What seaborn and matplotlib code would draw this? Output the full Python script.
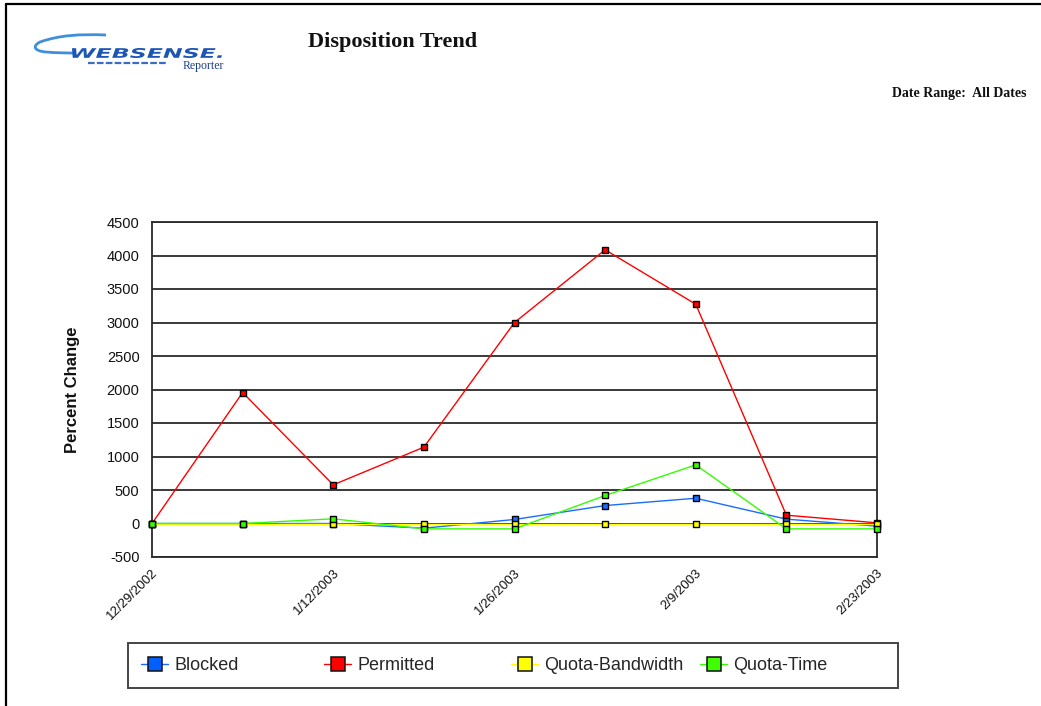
import matplotlib
matplotlib.use("Agg")
import matplotlib.pyplot as plt
from matplotlib.lines import Line2D
from matplotlib.patches import Rectangle, PathPatch
from matplotlib.textpath import TextPath
from matplotlib.font_manager import FontProperties
from matplotlib.transforms import Affine2D
from matplotlib.path import Path
import pandas as pd
import seaborn as sns

# Weekly reporting periods
dates = ["2002-12-29", "2003-01-05", "2003-01-12", "2003-01-19", "2003-01-26",
         "2003-02-02", "2003-02-09", "2003-02-16", "2003-02-23"]

# Percent change per disposition
blocked = [0, 0, 0, -70, 60, 268, 377, 65, -40]
permitted = [0, 1955, 577, 1139, 3000, 4085, 3273, 124, 10]
quota_bandwidth = [0, 0, 0, 0, 0, 0, 0, 0, 0]
quota_time = [0, 0, 70, -80, -80, 418, 875, -80, -80]

series_names = ["Blocked", "Permitted", "Quota-Bandwidth", "Quota-Time"]
series_colors = ["#1a6cff", "#ff0000", "#ffff00", "#33ff00"]
legend_fill = ["#0060ff", "#ff0000", "#ffff00", "#40ff00"]

y_ticks = [-500, 0, 500, 1000, 1500, 2000, 2500, 3000, 3500, 4000, 4500]

title_text = "Disposition Trend"
range_text = "Date Range:  All Dates"
y_label = "Percent Change"

# ---- long-form table for seaborn
date_index = pd.to_datetime(dates)
frames = []
for name, vals in zip(series_names, [blocked, permitted, quota_bandwidth, quota_time]):
    frames.append(pd.DataFrame({"Date": date_index, "Percent Change": vals, "Series": name}))
df = pd.concat(frames, ignore_index=True)

sns.set_theme(style="white")
plt.rcParams["font.family"] = ["Liberation Sans", "DejaVu Sans"]

W, H = 1041, 706
fig = plt.figure(figsize=(W / 100, H / 100), dpi=100)
fig.patch.set_facecolor("white")


def fx(px):
    return px / W


def fy(py):
    return (H - py) / H


# ---- page frame (top and left rules)
fig.add_artist(Line2D([fx(6), 1.0], [fy(4), fy(4)], transform=fig.transFigure,
                      color="black", lw=1.6))
fig.add_artist(Line2D([fx(6), fx(6)], [fy(4), 0.0], transform=fig.transFigure,
                      color="black", lw=1.6))

# ---- main chart
left, right, top, bottom = 152, 877, 222, 557
ax = fig.add_axes([fx(left), fy(bottom), fx(right - left), (bottom - top) / H])
ax.set_facecolor("white")

sns.lineplot(data=df, x="Date", y="Percent Change", hue="Series",
             hue_order=series_names, palette=dict(zip(series_names, series_colors)),
             marker="s", markersize=4.8, markeredgecolor="black", markeredgewidth=1.0,
             linewidth=1.0, legend=False, ax=ax, zorder=3, clip_on=False)

ax.set_ylim(y_ticks[0], y_ticks[-1])
ax.set_yticks(y_ticks)
ax.set_yticklabels([str(v) for v in y_ticks], fontsize=10.5, color="#111111")
ax.yaxis.grid(True, color="#2a2a2a", linewidth=1.3)
ax.xaxis.grid(False)
ax.set_axisbelow(True)
ax.tick_params(axis="y", length=0, pad=9)

ax.set_xlim(date_index[0], date_index[-1])
tick_dates = date_index[::2]
ax.set_xticks(tick_dates)
ax.set_xticklabels([f"{d.month}/{d.day}/{d.year}" for d in tick_dates],
                   rotation=45, ha="right", rotation_mode="anchor",
                   fontsize=9.5, color="#111111")
ax.tick_params(axis="x", direction="in", length=5, width=1.3, color="#222222", pad=7)

for side in ["left", "right", "bottom", "top"]:
    ax.spines[side].set_visible(True)
    ax.spines[side].set_color("#2a2a2a")
    ax.spines[side].set_linewidth(1.3)

ax.set_xlabel("")
ax.set_ylabel(y_label, fontsize=12, fontweight="bold", color="#111111", labelpad=19)

# ---- title and date range
fig.text(fx(308), fy(42), title_text, fontsize=16, fontweight="bold",
         family="Liberation Serif", ha="left", va="center", color="#111111")
fig.text(fx(1027), fy(93), range_text, fontsize=10, fontweight="bold",
         family="Liberation Serif", ha="right", va="center", color="#111111")

# ---- logo
lax = fig.add_axes([fx(30), fy(75), fx(200), 43 / H])
lax.set_xlim(0, 200)
lax.set_ylim(0, 43)
lax.axis("off")

swoosh = Path([(76, 40), (50, 41), (30, 40), (10, 33),
               (2, 29), (4, 24), (16, 23),
               (28, 22), (38, 22), (44, 22)],
              [Path.MOVETO, Path.CURVE4, Path.CURVE4, Path.CURVE4,
               Path.CURVE4, Path.CURVE4, Path.CURVE4,
               Path.CURVE4, Path.CURVE4, Path.CURVE4])
lax.add_patch(PathPatch(swoosh, facecolor="none", edgecolor="#3f8fdc", lw=2.0))

tp = TextPath((0, 0), "WEBSENSE.", size=10,
              prop=FontProperties(family="DejaVu Sans", weight="bold", style="oblique"))
ext = tp.get_extents()
sx = 150 / ext.width
sy = 10 / ext.height
tr = Affine2D().translate(-ext.x0, -ext.y0).scale(sx, sy).translate(42, 17)
lax.add_patch(PathPatch(tr.transform_path(tp), facecolor="#1c56b4", edgecolor="none"))
lax.plot([58, 136], [12, 12], color="#3a6cc0", lw=1.6, ls=(0, (3, 1)))
lax.text(173, 9, "Reporter", fontsize=8.5, family="Liberation Serif",
         color="#1a3f8f", ha="center", va="center")

# ---- legend
fig.add_artist(Rectangle((fx(128), fy(688)), fx(898 - 128), (688 - 643) / H,
                         transform=fig.transFigure, facecolor="white",
                         edgecolor="#444444", lw=1.4))
legend_x = [141, 324, 511, 700]
for name, col, fill, xpos in zip(series_names, series_colors, legend_fill, legend_x):
    h = Line2D([], [], color=col, lw=1.0, marker="s", markersize=10.5,
               markerfacecolor=fill, markeredgecolor="#111111", markeredgewidth=1.1)
    fig.legend(handles=[h], labels=[name], loc="center left",
               bbox_to_anchor=(fx(xpos), fy(666)), frameon=False,
               fontsize=13, handlelength=1.5, handletextpad=0.33,
               borderpad=0, borderaxespad=0)

fig.savefig("out.png", dpi=100, facecolor="white")
